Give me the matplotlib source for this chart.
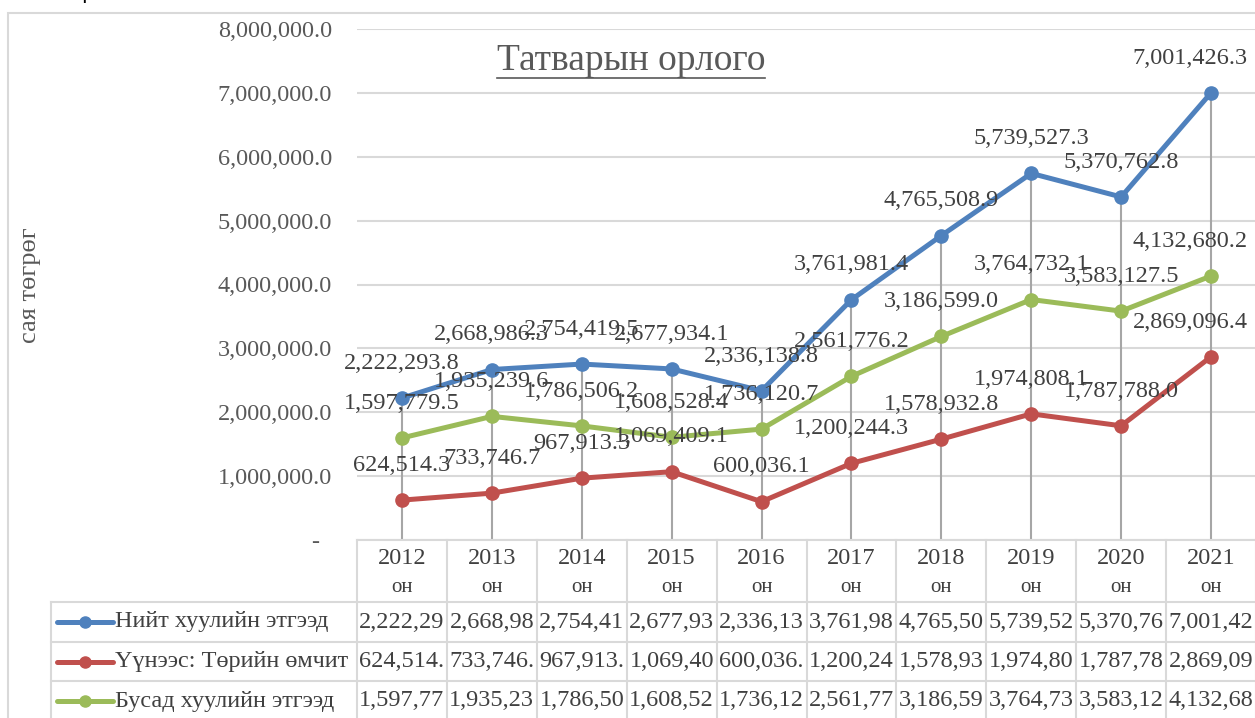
import matplotlib
matplotlib.use("Agg")
import matplotlib.pyplot as plt
from matplotlib.lines import Line2D
from matplotlib.patches import Rectangle

years = ['2012', '2013', '2014', '2015', '2016', '2017', '2018', '2019', '2020', '2021']
total = [2222293.8, 2668986.3, 2754419.5, 2677934.1, 2336138.8,
         3761981.4, 4765508.9, 5739527.3, 5370762.8, 7001426.3]
state = [624514.3, 733746.7, 967913.3, 1069409.1, 600036.1,
         1200244.3, 1578932.8, 1974808.1, 1787788.0, 2869096.4]
other = [1597779.5, 1935239.6, 1786506.2, 1608528.4, 1736120.7,
         2561776.2, 3186599.0, 3764732.1, 3583127.5, 4132680.2]
names = ['Нийт хуулийн этгээд', 'Үүнээс: Төрийн өмчит', 'Бусад хуулийн этгээд']
colors = ['#4F81BD', '#C0504D', '#9BBB59']
yticks = [0, 1e6, 2e6, 3e6, 4e6, 5e6, 6e6, 7e6, 8e6]

plt.rcParams['font.family'] = ['Liberation Serif', 'DejaVu Serif']
W, H = 1255, 718
fig = plt.figure(figsize=(W / 100, H / 100), dpi=100)

# outer chart frame (cut by the image edge)
fig.add_artist(Rectangle((8 / W, -0.1), 1.2, 1 - 13 / H + 0.1, transform=fig.transFigure,
                         fill=False, edgecolor='#D9D9D9', lw=1.5))
# caption above the frame, only its lower edge is visible
fig.text(10 / W, 1 + 2 / H, 'сая төгрөг', family=['Liberation Sans'], fontsize=16,
         color='black', va='baseline')

ax = fig.add_axes([357 / W, 178 / H, 899 / W, 511 / H])
x = list(range(len(years)))
ax.set_xlim(-0.5, len(years) - 0.5)
ax.set_ylim(0, 8e6)
for s in ax.spines.values():
    s.set_visible(False)
ax.set_xticks([])
ax.set_yticks(yticks)
ax.set_yticklabels(['-  '] + [f'{v:,.1f}' for v in yticks[1:]])
ax.tick_params(axis='y', length=0, pad=18, labelsize=17.5, labelcolor='#595959')
ax.grid(axis='y', color='#D9D9D9', lw=1.5)
ax.set_axisbelow(True)

series = [total, state, other]
tops = [max(a, b, c) for a, b, c in zip(total, state, other)]
ax.vlines(x, 0, tops, color='#A6A6A6', lw=1.5, zorder=1)

for vals, col in zip(series, colors):
    ax.plot(x, vals, color=col, lw=3.6, marker='o', markersize=9.5, zorder=3,
            solid_capstyle='round')
    for i, v in enumerate(vals):
        if i == len(vals) - 1:
            ax.annotate(f'{v:,.1f}', (i, v), xytext=(26.5, 25), textcoords='offset points',
                        ha='right', va='center', fontsize=17.5, color='#404040', zorder=4)
        else:
            ax.annotate(f'{v:,.1f}', (i, v), xytext=(0, 25), textcoords='offset points',
                        ha='center', va='center', fontsize=17.5, color='#404040', zorder=4)

title = fig.text(631 / W, 1 - 61 / H, 'Татварын орлого', ha='center', va='center',
                 fontsize=27, color='#595959')
fig.text(30 / W, 1 - 285 / H, 'сая төгрөг', rotation=90, ha='center', va='center',
         fontsize=19, color='#595959')

# data table under the chart
tab = fig.add_axes([357 / W, 0, 899 / W, 178 / H])
tab.set_xlim(-0.5, len(years) - 0.5)
tab.set_ylim(178, 0)
tab.axis('off')
rows = [0, 62, 102, 141, 181]
left = -0.5 - (357 - 51) / 89.9
gc = '#D9D9D9'
tab.add_line(Line2D([-0.5, 10], [0, 0], color=gc, lw=1.5, clip_on=False))
for r in rows[1:4]:
    tab.add_line(Line2D([left, 10], [r, r], color=gc, lw=1.5, clip_on=False))
for k in range(len(years) + 1):
    tab.add_line(Line2D([k - 0.5, k - 0.5], [0, 181], color=gc, lw=1.5, clip_on=False))
tab.add_line(Line2D([left, left], [62, 181], color=gc, lw=1.5, clip_on=False))

for i, yr in enumerate(years):
    tab.text(i, 19, yr, ha='center', va='center', fontsize=17.5, color='#404040', clip_on=False)
    tab.text(i, 48, 'он', ha='center', va='center', fontsize=15, color='#404040', clip_on=False)

for j, (vals, col, name) in enumerate(zip(series, colors, names)):
    yc = (rows[j + 1] + rows[j + 2]) / 2
    tab.add_line(Line2D([left + 6 / 89.9, left + 62 / 89.9], [yc, yc], color=col, lw=3.6,
                        clip_on=False, solid_capstyle='round'))
    tab.add_line(Line2D([left + 34 / 89.9], [yc], color=col, marker='o', markersize=8,
                        clip_on=False))
    tab.text(left + 64 / 89.9, yc, name, ha='left', va='center', fontsize=17.5,
             color='#404040', clip_on=False)
    for i, v in enumerate(vals):
        tab.text(i, yc, f'{v:,.1f}'[:8], ha='center', va='center', fontsize=17.5,
                 color='#404040', clip_on=False)

# underline the title
fig.canvas.draw()
bb = title.get_window_extent()
fig.add_artist(Line2D([bb.x0 / W, bb.x1 / W], [1 - 78 / H, 1 - 78 / H],
                      transform=fig.transFigure, color='#595959', lw=1.2))

fig.savefig('out.png', dpi=100)
